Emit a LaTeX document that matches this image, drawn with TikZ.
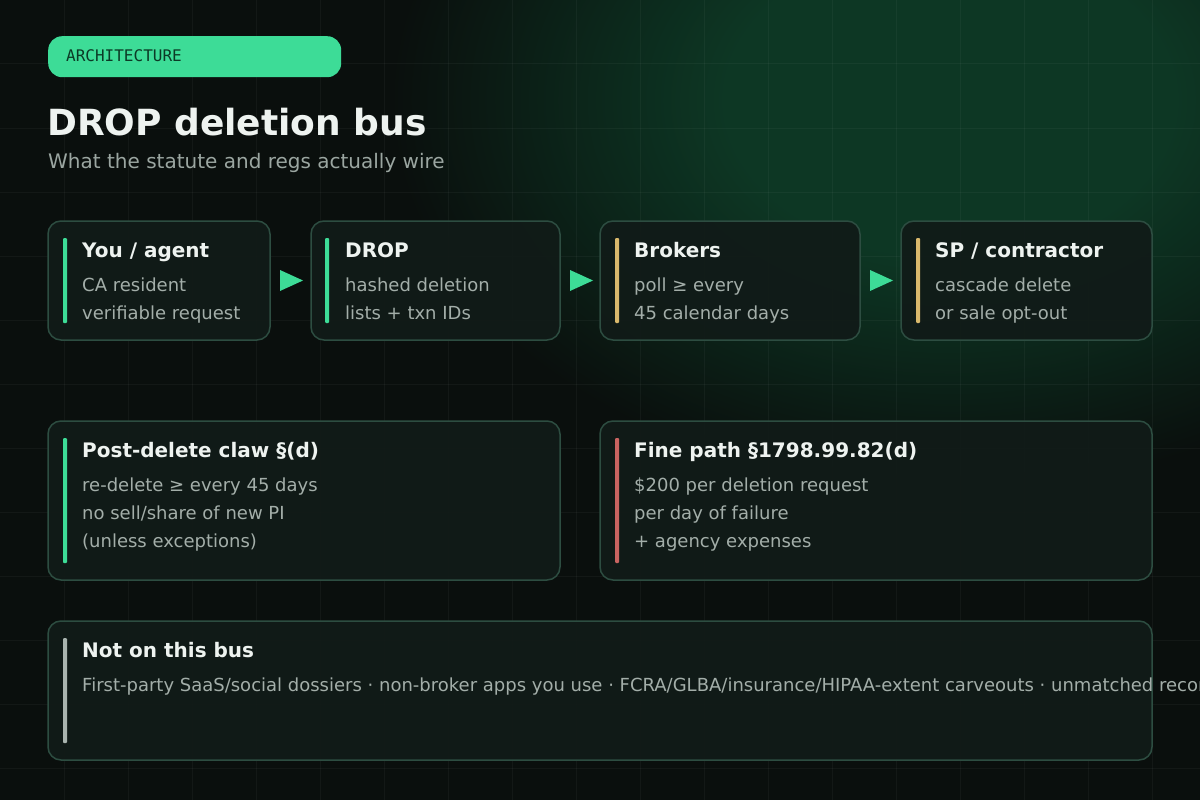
\documentclass[tikz,border=0pt]{standalone}
\usepackage{fontspec}
\setmainfont{DejaVu Sans}
\newfontfamily\monofnt{DejaVu Sans Mono}
\usetikzlibrary{calc}
\definecolor{bgc}{HTML}{0A0F0D}
\definecolor{glowc}{HTML}{0D3724}
\definecolor{gridc}{HTML}{FFFFFF}
\definecolor{cardfill}{HTML}{111B18}
\definecolor{cardline}{HTML}{2D4D41}
\definecolor{titlec}{HTML}{EEF3F0}
\definecolor{bodyc}{HTML}{A3AEA9}
\definecolor{subc}{HTML}{9BA6A1}
\definecolor{accgreen}{HTML}{3DDC97}
\definecolor{accgold}{HTML}{D9B86C}
\definecolor{accred}{HTML}{C96461}
\definecolor{accgray}{HTML}{A9B4AF}
\definecolor{badgetext}{HTML}{0C3A26}
\pgfdeclareradialshading{glowshade}{\pgfpoint{0bp}{0bp}}{color(0bp)=(glowc); color(10bp)=(glowc); color(25bp)=(bgc); color(50bp)=(bgc)}
\begin{document}
\begin{tikzpicture}[x=1pt,y=-1pt,
 card/.style={draw=cardline, line width=1.5pt, fill=cardfill, fill opacity=0.95, rounded corners=13pt, inner sep=0pt, outer sep=0pt, anchor=north west},
 accbar/.style={inner sep=0pt, outer sep=0pt, anchor=north west, minimum width=4pt, rounded corners=1pt},
 cardtitle/.style={inner sep=0pt, anchor=base west, text=titlec, font=\fontsize{20}{24}\selectfont\bfseries},
 cardbody/.style={inner sep=0pt, anchor=base west, text=bodyc, font=\fontsize{18}{22}\selectfont},
 gridline/.style={draw=gridc, draw opacity=0.04, line width=1pt},
 flowtip/.style={fill=accgreen}
]
\useasboundingbox (0,0) rectangle (1200,800);
\begin{scope}
\clip (0,0) rectangle (1200,800);
\fill[bgc] (0,0) rectangle (1200,800);
\shade[shading=glowshade] (950,100) ellipse [x radius=560pt, y radius=390pt];
\foreach \i in {64,128,...,1152} \draw[gridline] (\i,0) -- (\i,800);
\foreach \j in {64,128,...,768} \draw[gridline] (0,\j) -- (1200,\j);

% header
\node[fill=accgreen, rounded corners=14pt, inner sep=0pt, anchor=north west, minimum width=293pt, minimum height=41pt] (badge) at (48,36) {};
\node[inner sep=0pt, anchor=base west, text=badgetext, font=\monofnt\fontsize{16}{18}\selectfont] (badgetxt) at (66,61.5) {ARCHITECTURE};
\node[inner sep=0pt, anchor=base west, text=titlec, font=\fontsize{36}{40}\selectfont\bfseries] (title) at (47,135) {DROP deletion bus};
\node[inner sep=0pt, anchor=base west, text=subc, font=\fontsize{20}{24}\selectfont] (subtitle) at (48,168) {What the statute and regs actually wire};

% row 1
\node[card, minimum width=222pt, minimum height=119pt] (c1) at (48,221) {};
\node[card, minimum width=249pt, minimum height=119pt] (c2) at (311,221) {};
\node[card, minimum width=260pt, minimum height=119pt] (c3) at (600,221) {};
\node[card, minimum width=251pt, minimum height=119pt] (c4) at (901,221) {};

\node[accbar, fill=accgreen, minimum height=85pt] (bar1) at (63,238) {};
\node[accbar, fill=accgreen, minimum height=85pt] (bar2) at (325,238) {};
\node[accbar, fill=accgold, minimum height=85pt] (bar3) at (615,238) {};
\node[accbar, fill=accgold, minimum height=85pt] (bar4) at (916,238) {};

\node[cardtitle] (t1) at (82,257) {You / agent};
\node[cardbody] (t1a) at (82,291) {CA resident};
\node[cardbody] (t1b) at (82,319) {verifiable request};

\node[cardtitle] (t2) at (345,257) {DROP};
\node[cardbody] (t2a) at (345,291) {hashed deletion};
\node[cardbody] (t2b) at (345,319) {lists + txn IDs};

\node[cardtitle] (t3) at (634,257) {Brokers};
\node[cardbody] (t3a) at (634,291) {poll ≥ every};
\node[cardbody] (t3b) at (634,319) {45 calendar days};

\node[cardtitle] (t4) at (935,257) {SP / contractor};
\node[cardbody] (t4a) at (935,291) {cascade delete};
\node[cardbody] (t4b) at (935,319) {or sale opt-out};

% flow arrows
\fill[flowtip] ($(c1.east)+(10,-10.5)$) -- ($(c1.east)+(33,0)$) -- ($(c1.east)+(10,10.5)$) -- cycle;
\fill[flowtip] ($(c2.east)+(10,-10.5)$) -- ($(c2.east)+(33,0)$) -- ($(c2.east)+(10,10.5)$) -- cycle;
\fill[flowtip] ($(c3.east)+(10,-10.5)$) -- ($(c3.east)+(33,0)$) -- ($(c3.east)+(10,10.5)$) -- cycle;

% row 2
\node[card, minimum width=512pt, minimum height=159pt] (c5) at (48,421) {};
\node[card, minimum width=552pt, minimum height=159pt] (c6) at (600,421) {};
\node[accbar, fill=accgreen, minimum height=125pt] (bar5) at (63,438) {};
\node[accbar, fill=accred, minimum height=125pt] (bar6) at (615,438) {};

\node[cardtitle] (t5) at (82,457) {Post-delete claw §(d)};
\node[cardbody] (t5a) at (82,491) {re-delete ≥ every 45 days};
\node[cardbody] (t5b) at (82,519) {no sell/share of new PI};
\node[cardbody] (t5c) at (82,547) {(unless exceptions)};

\node[cardtitle] (t6) at (634,457) {Fine path §1798.99.82(d)};
\node[cardbody] (t6a) at (634,491) {\$200 per deletion request};
\node[cardbody] (t6b) at (634,519) {per day of failure};
\node[cardbody] (t6c) at (634,547) {+ agency expenses};

% row 3
\node[card, minimum width=1104pt, minimum height=139pt] (c7) at (48,621) {};
\node[accbar, fill=accgray, minimum height=105pt] (bar7) at (63,638) {};
\node[cardtitle] (t7) at (82,657) {Not on this bus};
\node[cardbody] (t7a) at (82,691) {First-party SaaS/social dossiers · non-broker apps you use · FCRA/GLBA/insurance/HIPAA-extent carveouts · unmatched records};
\end{scope}
\end{tikzpicture}
\end{document}
